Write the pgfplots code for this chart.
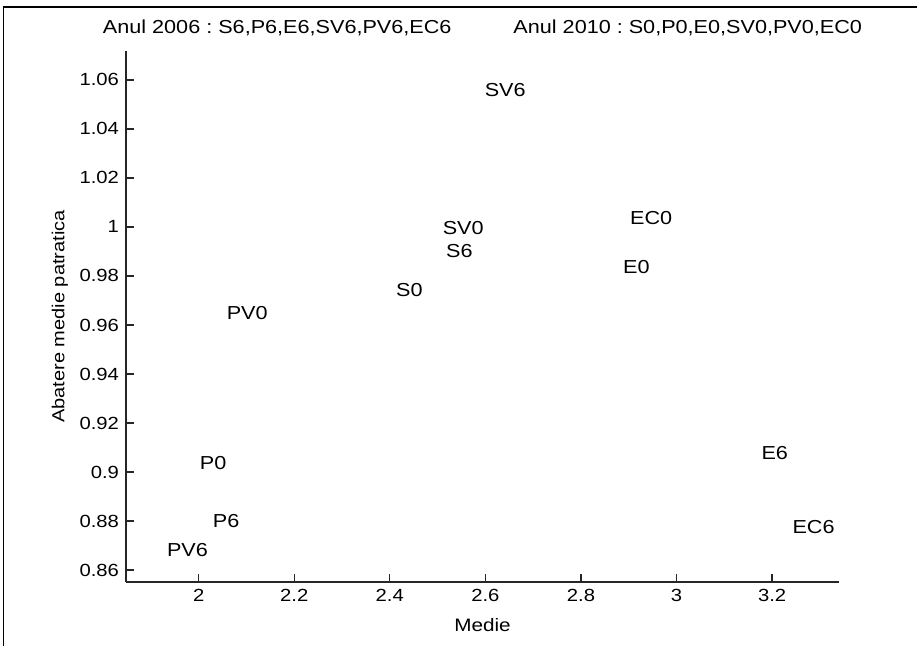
\documentclass[border=0pt]{standalone}
\usepackage{pgfplots}
\usepackage{pgfplotstable}
\pgfplotsset{compat=1.18}
\usepackage{fontspec}
\setmainfont[FakeStretch=1.15]{Liberation Sans}
\frenchspacing

% Medie / abatere medie patratica pe grupuri, 2006 (...6) si 2010 (...0)
\pgfplotstableread{
x      y       label
2.598  1.0559  SV6
2.510  0.9996  SV0
2.517  0.9902  S6
2.4125 0.9743  S0
2.902  1.0037  EC0
2.8875 0.9837  E0
2.058  0.9649  PV0
2.002  0.9037  P0
2.029  0.8800  P6
1.933  0.8682  PV6
3.177  0.9078  E6
3.242  0.8776  EC6
}\puncte

\begin{document}
\begin{tikzpicture}
\useasboundingbox (0,0) rectangle (458.5pt,323pt);
\draw[line width=0.9pt] (1.75pt,0) -- (1.75pt,319.5pt) -- (458.5pt,319.5pt);
\begin{axis}[
  at={(63pt,32pt)}, anchor=south west,
  scale only axis, width=356.5pt, height=265.5pt,
  xmin=1.848, xmax=3.34, ymin=0.8551, ymax=1.0718,
  axis lines*=left,
  axis line style={line width=0.7pt, black!85},
  xtick={2,2.2,2.4,2.6,2.8,3,3.2},
  ytick={0.86,0.88,0.9,0.92,0.94,0.96,0.98,1,1.02,1.04,1.06},
  scaled ticks=false,
  /pgf/number format/fixed,
  /pgf/number format/assume math mode=true,
  tick style={black!85, line width=0.6pt},
  major tick length=4pt,
  tick align=inside,
  ticklabel style={font=\fontsize{8.8}{10}\selectfont},
  title={Anul 2006 : S6,P6,E6,SV6,PV6,EC6\hspace{31pt}Anul 2010 : S0,P0,E0,SV0,PV0,EC0},
  title style={at={(axis description cs:0.5,1.0207)}, anchor=center, yshift=0pt, font=\fontsize{9.4}{11}\selectfont},
  xlabel={Medie},
  xlabel style={at={(axis description cs:0.5,-0.081)}, anchor=center, font=\fontsize{9}{10}\selectfont},
  ylabel={Abatere medie patratica},
  ylabel style={at={(axis description cs:-0.0926,0.5)}, anchor=center, font=\fontsize{8.7}{10}\selectfont},
  clip=false,
]
\addplot[only marks, mark=none, nodes near coords, point meta=explicit symbolic,
  every node near coord/.append style={anchor=west, inner sep=0pt, font=\fontsize{9.4}{11}\selectfont}]
  table[x=x, y=y, meta=label] {\puncte};
\end{axis}
\end{tikzpicture}
\end{document}
